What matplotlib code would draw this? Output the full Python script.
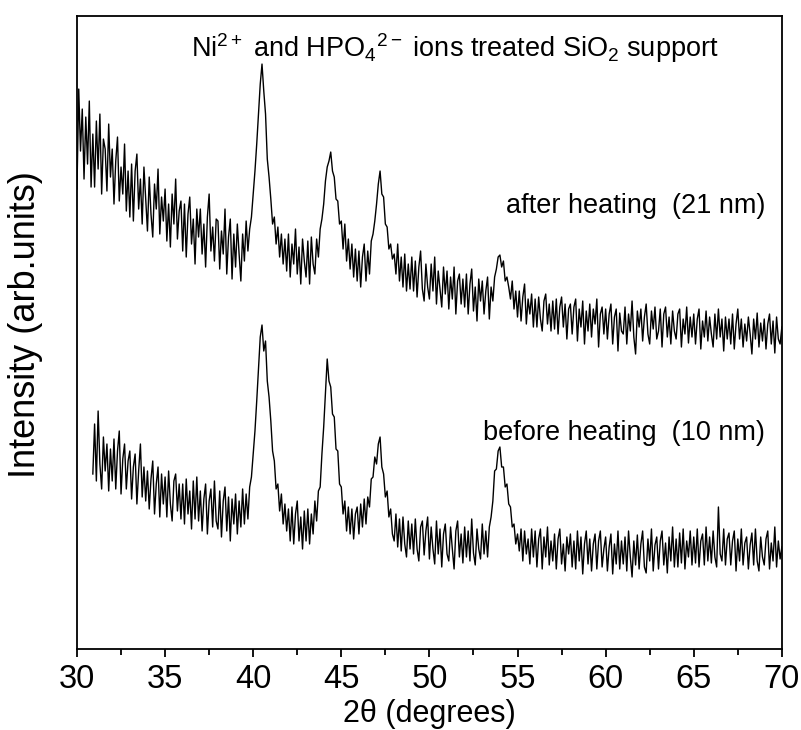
import numpy as np
import matplotlib
matplotlib.use('Agg')
import matplotlib.pyplot as plt
from matplotlib.ticker import MultipleLocator

plt.rcParams['font.family'] = ['Liberation Sans', 'DejaVu Sans']
plt.rcParams['mathtext.fontset'] = 'custom'
plt.rcParams['mathtext.rm'] = 'Liberation Sans'
plt.rcParams['mathtext.it'] = 'Liberation Sans'

# XRD traces, 0.1 deg steps, intensity in arb. units
after_start = 30.0
after_heating = [
    460, 560, 498, 540, 470, 532, 485, 548, 462, 515,
    462, 528, 480, 535, 455, 510, 500, 458, 525, 472,
    500, 445, 488, 512, 448, 482, 455, 505, 438, 478,
    432, 485, 428, 478, 495, 440, 470, 425, 482, 450,
    418, 472, 435, 412, 465, 440, 480, 415, 452, 428,
    460, 408, 445, 402, 455, 425, 470, 410, 438, 448,
    398, 445, 392, 435, 452, 405, 430, 385, 440, 412,
    440, 395, 425, 382, 432, 455, 398, 422, 388, 430,
    428, 380, 418, 395, 440, 375, 412, 430, 370, 415,
    382, 425, 395, 368, 415, 388, 428, 398, 420, 432,
    455, 478, 505, 535, 565, 585, 558, 535, 490, 472,
    450, 425, 432, 405, 422, 392, 415, 385, 410, 378,
    415, 372, 405, 385, 420, 375, 402, 365, 410, 388,
    372, 408, 365, 412, 385, 375, 410, 392, 420, 430,
    445, 468, 482, 488, 497, 478, 472, 450, 448, 425,
    428, 400, 425, 388, 410, 380, 405, 372, 400, 368,
    398, 362, 392, 405, 368, 398, 375, 408, 415, 428,
    445, 465, 478, 455, 452, 425, 422, 400, 405, 390,
    395, 375, 405, 368, 392, 362, 395, 358, 385, 360,
    392, 358, 388, 352, 382, 398, 360, 348, 385, 362,
    350, 385, 358, 392, 345, 378, 360, 342, 382, 355,
    378, 340, 372, 350, 382, 335, 368, 375, 345, 370,
    342, 375, 335, 365, 380, 338, 362, 328, 370, 348,
    368, 335, 358, 372, 330, 362, 348, 372, 380, 392,
    394, 382, 388, 368, 372, 362, 350, 368, 340, 358,
    332, 358, 328, 352, 365, 325, 350, 335, 355, 322,
    350, 322, 352, 330, 318, 348, 355, 325, 345, 318,
    348, 320, 350, 315, 342, 352, 322, 345, 310, 340,
    345, 315, 342, 350, 308, 340, 322, 348, 305, 338,
    318, 345, 312, 340, 325, 350, 302, 335, 342, 315,
    340, 310, 335, 345, 305, 332, 340, 298, 336, 318,
    315, 342, 305, 335, 318, 348, 312, 295, 338, 322,
    340, 308, 332, 345, 315, 305, 338, 320, 342, 310,
    318, 340, 302, 335, 342, 312, 332, 305, 338, 318,
    310, 335, 340, 302, 330, 315, 342, 306, 332, 312,
    335, 305, 330, 340, 300, 328, 312, 338, 308, 332,
    315, 302, 335, 310, 340, 312, 330, 298, 332, 310,
    330, 305, 335, 300, 325, 340, 310, 330, 302, 325,
    308, 332, 315, 295, 330, 310, 336, 302, 326, 308,
    330, 300, 325, 335, 305, 328, 296, 332, 310, 305,
    322,
]

before_start = 30.9
before_heating = [
    175,
    225, 168, 238, 185, 160, 212, 178, 205, 158, 200,
    168, 210, 160, 198, 218, 155, 190, 205, 160, 188,
    198, 150, 182, 195, 145, 178, 205, 152, 182, 148,
    178, 140, 170, 188, 135, 165, 182, 132, 175, 145,
    172, 132, 178, 145, 128, 168, 175, 138, 165, 130,
    165, 125, 170, 135, 158, 120, 168, 130, 172, 128,
    158, 118, 150, 165, 115, 148, 160, 122, 168, 128,
    120, 158, 112, 148, 162, 118, 152, 108, 150, 125,
    155, 115, 148, 122, 160, 125, 155, 130, 162, 172,
    195, 218, 248, 280, 312, 324, 298, 308, 268, 252,
    228, 198, 188, 160, 165, 138, 155, 125, 145, 118,
    140, 108, 142, 105, 135, 148, 108, 132, 100, 138,
    108, 140, 105, 135, 115, 148, 128, 158, 162, 195,
    222, 255, 290, 268, 262, 235, 232, 200, 198, 165,
    162, 135, 148, 118, 142, 115, 140, 110, 135, 142,
    115, 145, 122, 150, 125, 152, 142, 170, 172, 192,
    185, 205, 212, 182, 175, 152, 158, 132, 140, 115,
    108, 135, 102, 130, 98, 132, 105, 92, 128, 100,
    125, 95, 130, 100, 88, 122, 128, 94, 118, 132,
    90, 122, 100, 85, 128, 95, 120, 82, 115, 125,
    95, 88, 122, 100, 80, 118, 128, 92, 115, 86,
    122, 92, 118, 88, 130, 96, 84, 120, 100, 90,
    125, 95, 118, 92, 122, 132, 148, 178, 180, 198,
    202, 182, 182, 162, 165, 145, 142, 122, 125, 105,
    115, 98, 120, 88, 118, 95, 110, 85, 120, 92,
    118, 82, 110, 120, 80, 112, 92, 122, 84, 108,
    88, 115, 80, 110, 120, 85, 105, 78, 112, 95,
    115, 82, 108, 80, 118, 88, 112, 75, 105, 118,
    85, 110, 78, 105, 115, 80, 108, 118, 82, 100,
    112, 78, 102, 115, 75, 105, 85, 118, 80, 108,
    85, 112, 78, 118, 92, 72, 108, 84, 114, 80,
    105, 118, 82, 76, 110, 88, 120, 78, 104, 112,
    80, 108, 118, 84, 106, 76, 112, 88, 122, 82,
    110, 82, 116, 86, 120, 80, 108, 92, 118, 84,
    112, 86, 120, 82, 108, 115, 84, 122, 88, 112,
    86, 118, 92, 82, 142, 95, 88, 120, 84, 110,
    116, 84, 108, 118, 78, 110, 88, 120, 84, 106,
    112, 80, 104, 116, 84, 120, 88, 78, 112, 92,
    84, 110, 118, 80, 106, 88, 122, 82, 108, 90,
    102,
]

x_after = np.round(after_start + 0.1 * np.arange(len(after_heating)), 1)
x_before = np.round(before_start + 0.1 * np.arange(len(before_heating)), 1)

fig = plt.figure(figsize=(8.01, 7.30), dpi=100)
ax = fig.add_axes([0.0961, 0.111, 0.880, 0.867])

ax.plot(x_after, after_heating, color='black', linewidth=1.0)
ax.plot(x_before, before_heating, color='black', linewidth=1.0)

ax.set_xlim(30, 70)
ax.set_ylim(0, 633)
ax.set_yticks([])
ax.xaxis.set_major_locator(MultipleLocator(5))
ax.xaxis.set_minor_locator(MultipleLocator(2.5))
ax.tick_params(axis='x', which='major', direction='out', length=6, width=1.3,
               labelsize=23.5, pad=5)
ax.tick_params(axis='x', which='minor', direction='out', length=4, width=1.3)
for s in ax.spines.values():
    s.set_linewidth(1.3)

ax.set_xlabel('2θ (degrees)', fontsize=22, labelpad=3)
ax.set_ylabel('Intensity (arb.units)', fontsize=26)
ax.yaxis.set_label_coords(-0.048, 0.513)

ax.text(51.45, 592, r'Ni$^{2+}$ and HPO$_4$$^{2-}$ ions treated SiO$_2$ support',
        ha='center', va='baseline', fontsize=19.5)
ax.text(69.05, 443, 'after heating  (21 nm)', ha='right', va='center', fontsize=19.5)
ax.text(69.05, 216, 'before heating  (10 nm)', ha='right', va='center', fontsize=19.5)

fig.savefig('out.png', dpi=100)
